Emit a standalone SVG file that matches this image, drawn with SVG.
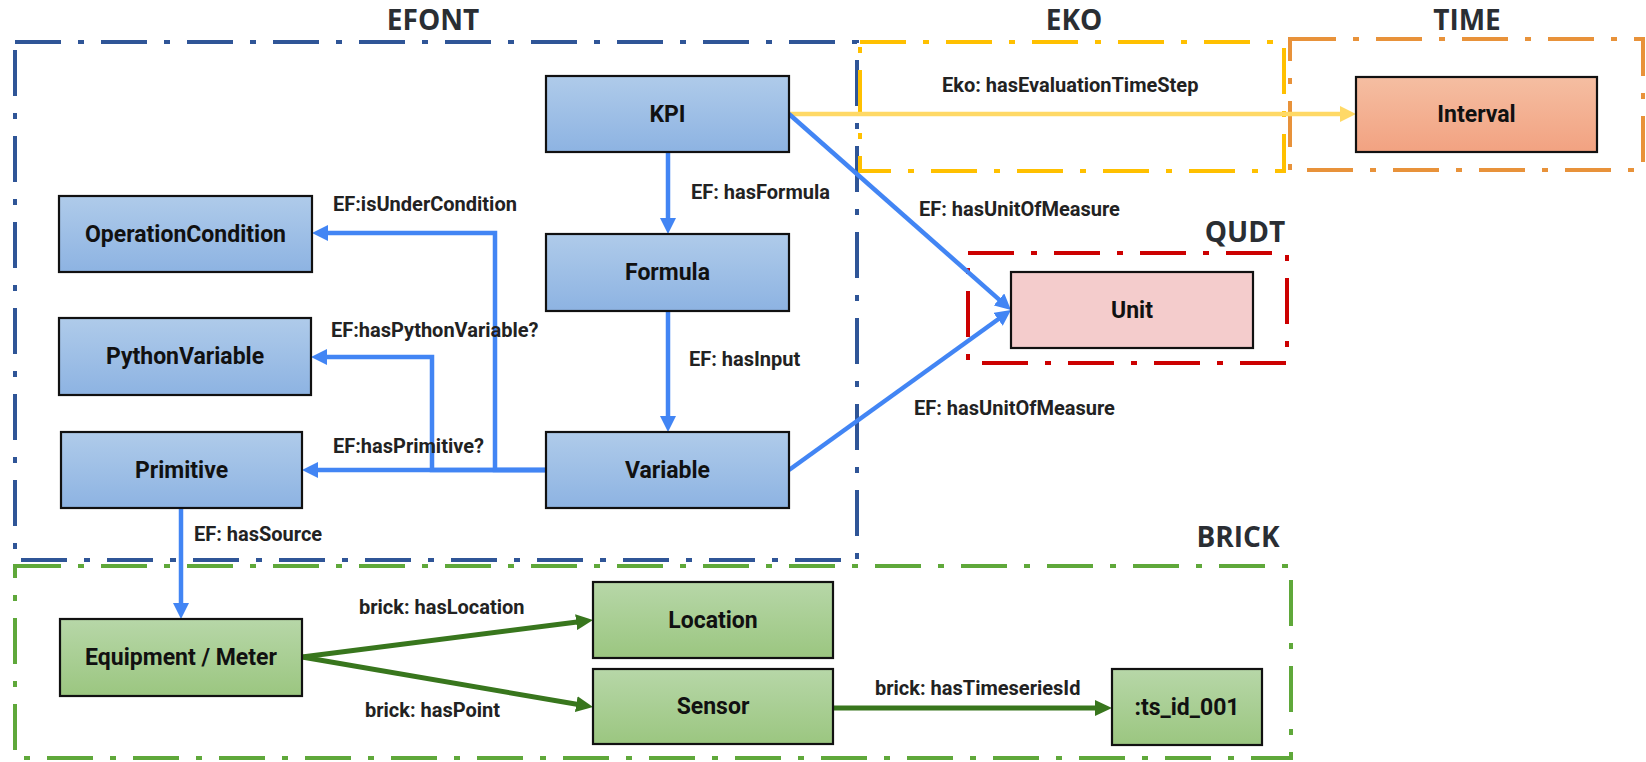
<svg xmlns="http://www.w3.org/2000/svg" width="1646" height="762" viewBox="0 0 1646 762">
  <defs>
    <linearGradient id="gBlue" x1="0" y1="0" x2="0" y2="1">
      <stop offset="0" stop-color="#afcbea"/>
      <stop offset="1" stop-color="#8db3e2"/>
    </linearGradient>
    <linearGradient id="gOrange" x1="0" y1="0" x2="0" y2="1">
      <stop offset="0" stop-color="#f5bea2"/>
      <stop offset="1" stop-color="#f2a281"/>
    </linearGradient>
    <linearGradient id="gGreen" x1="0" y1="0" x2="0" y2="1">
      <stop offset="0" stop-color="#b7d7a8"/>
      <stop offset="1" stop-color="#9bc680"/>
    </linearGradient>
    <marker id="mBlue" markerUnits="userSpaceOnUse" markerWidth="16" markerHeight="16" refX="4" refY="8" orient="auto">
      <path d="M0,0 L16,8 L0,16 z" fill="#4285f4"/>
    </marker>
    <marker id="mYellow" markerUnits="userSpaceOnUse" markerWidth="16" markerHeight="16" refX="4" refY="8" orient="auto">
      <path d="M0,0 L16,8 L0,16 z" fill="#ffd966"/>
    </marker>
    <marker id="mGreen" markerUnits="userSpaceOnUse" markerWidth="17" markerHeight="16" refX="5" refY="8" orient="auto">
      <path d="M0,0 L17,8 L0,16 z" fill="#38761d"/>
    </marker>
  </defs>
  <style>
    .grp { fill: none; stroke-width: 4; stroke-dasharray: 46 17 6 17; }
    .title { font-family: "Open Sans", "Liberation Sans", sans-serif; font-weight: 700; font-size: 28px; fill: #2a2e33; text-anchor: middle; }
    .node rect { stroke: #111; stroke-width: 2.2; }
    .node text { font-family: Roboto, "Liberation Sans", sans-serif; font-weight: 700; font-size: 23px; fill: #111; text-anchor: middle; dominant-baseline: central; }
    .lbl { font-family: Roboto, "Liberation Sans", sans-serif; font-weight: 700; font-size: 20px; fill: #222; }
    .cb { fill: none; stroke: #4285f4; stroke-width: 4.5; marker-end: url(#mBlue); }
    .cy { fill: none; stroke: #ffd966; stroke-width: 4.5; marker-end: url(#mYellow); }
    .cg { fill: none; stroke: #38761d; stroke-width: 5; marker-end: url(#mGreen); }
  </style>

  <rect width="1646" height="762" fill="#ffffff"/>

  <!-- ontology frames -->
  <g id="frames">
    <rect class="grp" x="15" y="42" width="842" height="518" stroke="#2f5597"/>
    <rect class="grp" x="860" y="42" width="424" height="129" stroke="#ffc000"/>
    <rect class="grp" x="1290" y="39" width="353" height="131" stroke="#e8923a"/>
    <rect class="grp" x="968" y="253" width="319" height="110" stroke="#cc0000"/>
    <rect class="grp" x="15" y="566" width="1276" height="192" stroke="#5fa83a"/>
    <text class="title" x="433" y="30">EFONT</text>
    <text class="title" x="1074" y="30">EKO</text>
    <text class="title" x="1467" y="30">TIME</text>
    <text class="title" x="1245" y="242">QUDT</text>
    <text class="title" x="1238" y="547">BRICK</text>
  </g>

  <!-- connectors -->
  <g id="connectors">
    <path class="cy" d="M789,114 H1344"/>
    <path class="cb" d="M668,152 V222"/>
    <path class="cb" d="M668,311 V420"/>
    <path class="cb" d="M789,114 L1002,302.1"/>
    <path class="cb" d="M789,470 L1001.3,317"/>
    <path class="cb" d="M546,470 H314"/>
    <path class="cb" d="M546,470 H432 V357 H323"/>
    <path class="cb" d="M546,470 H495 V233 H324"/>
    <path class="cb" d="M181,508 V607"/>
    <path class="cg" d="M302,657 L581.1,621.5"/>
    <path class="cg" d="M302,657 L581.2,705"/>
    <path class="cg" d="M833,708 H1100"/>

    <text class="lbl" x="942" y="92">Eko: hasEvaluationTimeStep</text>
    <text class="lbl" x="691" y="199">EF: hasFormula</text>
    <text class="lbl" x="333" y="211">EF:isUnderCondition</text>
    <text class="lbl" x="919" y="216">EF: hasUnitOfMeasure</text>
    <text class="lbl" x="331" y="337">EF:hasPythonVariable?</text>
    <text class="lbl" x="689" y="366">EF: hasInput</text>
    <text class="lbl" x="914" y="415">EF: hasUnitOfMeasure</text>
    <text class="lbl" x="333" y="453">EF:hasPrimitive?</text>
    <text class="lbl" x="194" y="541">EF: hasSource</text>
    <text class="lbl" x="359" y="614">brick: hasLocation</text>
    <text class="lbl" x="365" y="717">brick: hasPoint</text>
    <text class="lbl" x="875" y="695">brick: hasTimeseriesId</text>
  </g>

  <!-- EFONT nodes -->
  <g id="kpi" class="node">
    <rect x="546" y="76" width="243" height="76" fill="url(#gBlue)"/>
    <text x="667.5" y="114">KPI</text>
  </g>
  <g id="formula" class="node">
    <rect x="546" y="234" width="243" height="77" fill="url(#gBlue)"/>
    <text x="667.5" y="272.5">Formula</text>
  </g>
  <g id="variable" class="node">
    <rect x="546" y="432" width="243" height="76" fill="url(#gBlue)"/>
    <text x="667.5" y="470">Variable</text>
  </g>
  <g id="operation-condition" class="node">
    <rect x="59" y="196" width="253" height="76" fill="url(#gBlue)"/>
    <text x="185.5" y="234">OperationCondition</text>
  </g>
  <g id="python-variable" class="node">
    <rect x="59" y="318" width="252" height="77" fill="url(#gBlue)"/>
    <text x="185" y="356.5">PythonVariable</text>
  </g>
  <g id="primitive" class="node">
    <rect x="61" y="432" width="241" height="76" fill="url(#gBlue)"/>
    <text x="181.5" y="470">Primitive</text>
  </g>

  <!-- TIME / QUDT nodes -->
  <g id="interval" class="node">
    <rect x="1356" y="77" width="241" height="75" fill="url(#gOrange)"/>
    <text x="1476.5" y="114.5">Interval</text>
  </g>
  <g id="unit" class="node">
    <rect x="1011" y="272" width="242" height="76" fill="#f4cccc"/>
    <text x="1132" y="310">Unit</text>
  </g>

  <!-- BRICK nodes -->
  <g id="equipment" class="node">
    <rect x="60" y="619" width="242" height="77" fill="url(#gGreen)"/>
    <text x="181" y="657.5">Equipment / Meter</text>
  </g>
  <g id="location" class="node">
    <rect x="593" y="582" width="240" height="76" fill="url(#gGreen)"/>
    <text x="713" y="620">Location</text>
  </g>
  <g id="sensor" class="node">
    <rect x="593" y="669" width="240" height="75" fill="url(#gGreen)"/>
    <text x="713" y="706.5">Sensor</text>
  </g>
  <g id="ts-id" class="node">
    <rect x="1112" y="669" width="150" height="76" fill="url(#gGreen)"/>
    <text x="1187" y="707">:ts_id_001</text>
  </g>
</svg>
